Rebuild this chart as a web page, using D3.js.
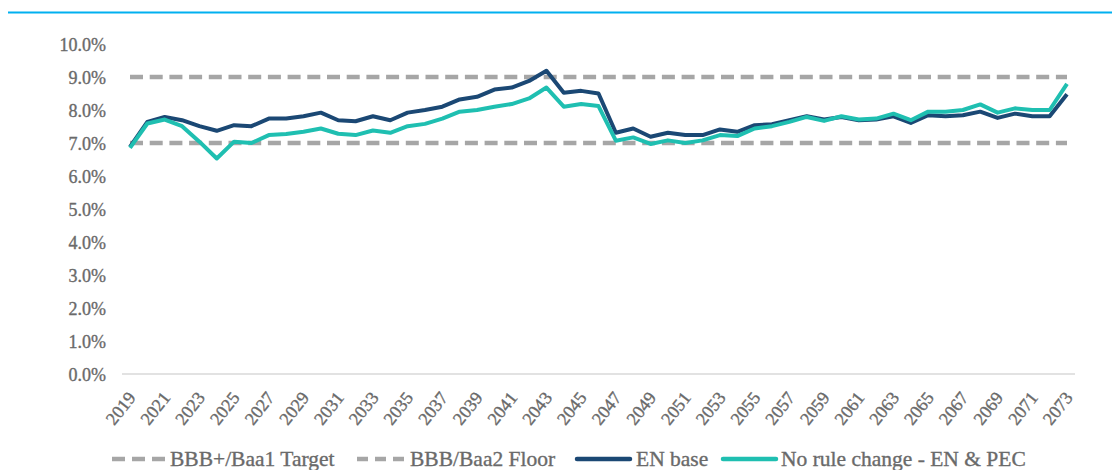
<!DOCTYPE html>
<html><head><meta charset="utf-8">
<script src="https://cdn.jsdelivr.net/npm/d3@7/dist/d3.min.js"></script>
<style>html,body{margin:0;padding:0;background:#fff;}svg{display:block;}</style>
</head><body>
<svg id="chart" width="1112" height="470"></svg>
<script>
const years = d3.range(2019, 2074);
const enBase = [6.88,7.64,7.79,7.69,7.51,7.37,7.54,7.51,7.74,7.74,7.81,7.92,7.69,7.66,7.81,7.69,7.92,8.00,8.10,8.32,8.40,8.62,8.68,8.88,9.19,8.52,8.58,8.50,7.31,7.44,7.19,7.31,7.24,7.24,7.41,7.34,7.54,7.57,7.69,7.81,7.71,7.79,7.69,7.71,7.81,7.61,7.84,7.81,7.84,7.95,7.76,7.89,7.81,7.81,8.48];
const noRule = [6.85,7.59,7.71,7.51,7.04,6.53,7.04,7.00,7.24,7.27,7.34,7.44,7.28,7.24,7.38,7.31,7.51,7.58,7.74,7.95,8.00,8.10,8.18,8.35,8.68,8.10,8.18,8.12,7.07,7.17,6.97,7.08,7.00,7.08,7.24,7.21,7.44,7.51,7.64,7.79,7.67,7.81,7.71,7.74,7.89,7.69,7.95,7.95,8.00,8.17,7.92,8.05,8.00,8.00,8.79];
const targetLevel = 9.0;
const floorLevel = 7.0;
const yTicks = [0,1,2,3,4,5,6,7,8,9,10];
const xTickYears = years.filter(y => (y - 2019) % 2 === 0);
const legendLabels = ["BBB+/Baa1 Target", "BBB/Baa2 Floor", "EN base", "No rule change - EN & PEC"];

const C_DARK = "#1b4874", C_TEAL = "#1fbfb1", C_GREY = "#a6a6a6", C_TEXT = "#6a6a6a";
const FONT = "'Liberation Serif', 'Times New Roman', serif";

const svg = d3.select("#chart");
const x = d3.scalePoint().domain(years).range([130, 1067]);
const y = d3.scaleLinear().domain([0, 10]).range([374, 44]);

function styleText(sel, size) {
  sel.attr("font-family", FONT).attr("font-size", size).attr("fill", C_TEXT)
    .attr("stroke", C_TEXT).attr("stroke-width", 0.35);
}

// top rule
svg.append("line").attr("x1", 8).attr("x2", 1112).attr("y1", 12.5).attr("y2", 12.5)
  .attr("stroke", "#00b0f0").attr("stroke-width", 2);

// y axis labels
const yAxis = d3.axisLeft(y).tickValues(yTicks).tickSize(0).tickPadding(0)
  .tickFormat(d => d3.format(".1f")(d) + "%");
const gy = svg.append("g").attr("transform", "translate(106,0)").call(yAxis);
gy.select(".domain").remove();
styleText(gy.selectAll("text").attr("dy", "0.35em"), 18);

// baseline
svg.append("line").attr("x1", 122).attr("x2", 1075).attr("y1", y(0)).attr("y2", y(0))
  .attr("stroke", "#d9d9d9").attr("stroke-width", 1.5);

// x axis labels
const xAxis = d3.axisBottom(x).tickValues(xTickYears).tickSize(0).tickPadding(0);
const gx = svg.append("g").attr("transform", `translate(0,${y(0)})`).call(xAxis);
gx.select(".domain").remove();
styleText(gx.selectAll("text")
  .attr("text-anchor", "end").attr("dy", null).attr("y", 0)
  .attr("transform", "translate(6,24) rotate(-52)"), 18);

// reference dashed lines
[targetLevel, floorLevel].forEach(v => {
  svg.append("line").attr("x1", x(2019)).attr("x2", x(2073)).attr("y1", y(v)).attr("y2", y(v))
    .attr("stroke", C_GREY).attr("stroke-width", 4.5).attr("stroke-dasharray", "13,6.7");
});

const line = d3.line().x((d, i) => x(years[i])).y(d => y(d));
svg.append("path").datum(enBase).attr("d", line).attr("fill", "none")
  .attr("stroke", C_DARK).attr("stroke-width", 4).attr("stroke-linejoin", "round");
svg.append("path").datum(noRule).attr("d", line).attr("fill", "none")
  .attr("stroke", C_TEAL).attr("stroke-width", 4).attr("stroke-linejoin", "round");

// legend
const legY = 459;
const legItems = [
  {label: legendLabels[0], x0: 112, x1: 166, tx: 170, color: C_GREY, dash: "13,7"},
  {label: legendLabels[1], x0: 357, x1: 405, tx: 410, color: C_GREY, dash: "11,7"},
  {label: legendLabels[2], x0: 577, x1: 630, tx: 636, color: C_DARK, dash: null},
  {label: legendLabels[3], x0: 723, x1: 776, tx: 781, color: C_TEAL, dash: null}
];
legItems.forEach(it => {
  const l = svg.append("line").attr("x1", it.x0).attr("x2", it.x1).attr("y1", legY).attr("y2", legY)
    .attr("stroke", it.color).attr("stroke-width", 4.5);
  if (it.dash) l.attr("stroke-dasharray", it.dash);
  else l.attr("stroke-linecap", "round");
  styleText(svg.append("text").attr("x", it.tx).attr("y", legY + 7).text(it.label), 21.5);
});
</script>
</body></html>
